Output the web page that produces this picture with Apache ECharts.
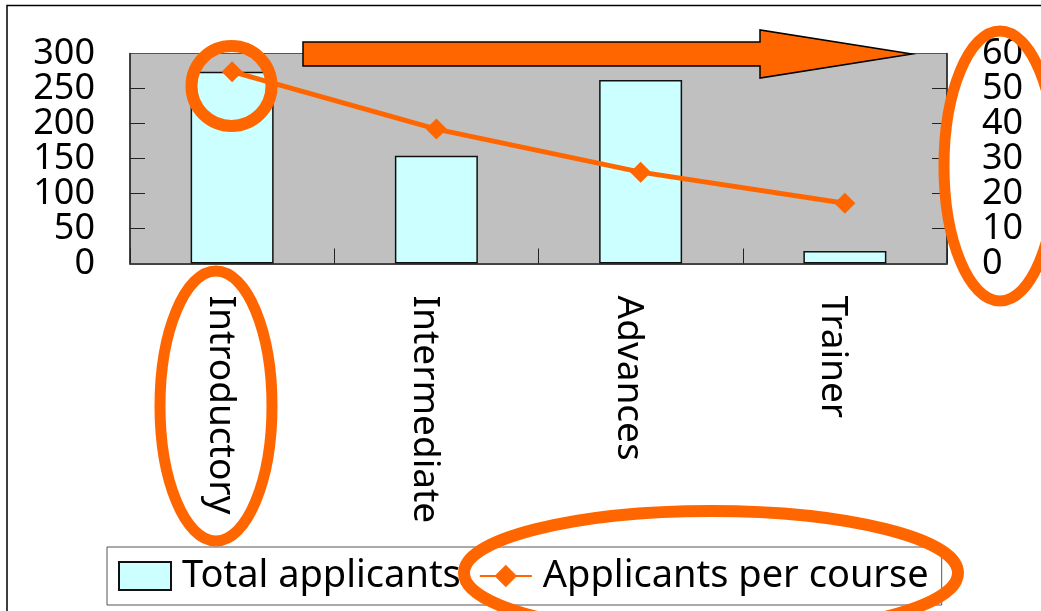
<!DOCTYPE html>
<html>
<head>
<meta charset="utf-8">
<script src="https://cdn.jsdelivr.net/npm/echarts@6/dist/echarts.min.js"></script>
<style>
html,body{margin:0;padding:0;background:#fff;}
#chart{width:1041px;height:611px;}
</style>
</head>
<body>
<div id="chart"></div>
<script>
const categories = ['Introductory', 'Intermediate', 'Advances', 'Trainer'];
const totalApplicants = [274, 154, 262, 18];
const applicantsPerCourse = [54.8, 38.4, 26.1, 17.2];
const leftTicks = [0, 300, 50];
const rightTicks = [0, 60, 10];

const FONT = 'Noto Sans';
const ORANGE = '#FF6600';

function mainAxis(pos, t) {
  return {
    type: 'value', position: pos,
    min: t[0], max: t[1], interval: t[2],
    axisLine: {show: true, lineStyle: {color: '#222', width: 1.5}},
    axisTick: {show: true, inside: true, length: 15, lineStyle: {color: '#222', width: 1}},
    axisLabel: {margin: 35, fontFamily: FONT, fontSize: 36, color: '#000', showMinLabel: false, showMaxLabel: false},
    splitLine: {show: false}
  };
}
function endAxis(pos, t) {
  return {
    type: 'value', position: pos,
    min: t[0], max: t[1], interval: t[1] - t[0],
    axisLine: {show: false}, axisTick: {show: false},
    axisLabel: {margin: 35, fontFamily: FONT, fontSize: 36, color: '#000', showMinLabel: true, showMaxLabel: true},
    splitLine: {show: false}
  };
}

const chart = echarts.init(document.getElementById('chart'), null, {renderer: 'canvas'});
chart.setOption({
  animation: false,
  backgroundColor: '#ffffff',
  textStyle: {fontFamily: FONT, color: '#000'},
  grid: {
    left: 130, right: 94, top: 53.5, bottom: 347.5,
    show: true, backgroundColor: '#C0C0C0', borderColor: '#555', borderWidth: 1
  },
  legend: {
    left: 107, top: 547,
    orient: 'horizontal',
    padding: [8, 13, 8, 11],
    itemGap: 18,
    itemWidth: 52, itemHeight: 28,
    backgroundColor: '#fff',
    borderColor: '#555', borderWidth: 1,
    textStyle: {fontFamily: FONT, fontSize: 38, color: '#000', lineHeight: 42, padding: [0, 0, 0, 6]},
    data: [
      {name: 'Total applicants', icon: 'rect'},
      {name: 'Applicants per course'}
    ]
  },
  xAxis: {
    type: 'category',
    data: categories,
    boundaryGap: true,
    axisLine: {show: true, lineStyle: {color: '#444', width: 2}},
    axisTick: {show: true, inside: true, length: 15, alignWithLabel: false, lineStyle: {color: '#222', width: 1}},
    axisLabel: {rotate: -90, margin: 32, fontFamily: FONT, fontSize: 37, color: '#000', verticalAlign: 'top', lineHeight: 24},
    splitLine: {show: false}
  },
  yAxis: [
    mainAxis('left', leftTicks),
    mainAxis('right', rightTicks),
    endAxis('left', leftTicks),
    endAxis('right', rightTicks)
  ],
  series: [
    {
      name: 'Total applicants',
      type: 'bar',
      yAxisIndex: 0,
      data: totalApplicants,
      barWidth: 83,
      itemStyle: {color: '#CCFFFF', borderColor: '#111', borderWidth: 1.5}
    },
    {
      name: 'Applicants per course',
      type: 'line',
      yAxisIndex: 1,
      data: applicantsPerCourse,
      symbol: 'diamond',
      symbolSize: 21,
      lineStyle: {color: ORANGE, width: 5},
      itemStyle: {color: ORANGE},
      z: 5
    }
  ],
  graphic: [
    {type: 'rect', z: 200, silent: true, shape: {x: 7, y: 5.5, width: 1200, height: 800},
     style: {fill: 'none', stroke: '#000', lineWidth: 1.5}},
    {type: 'polygon', z: 200, silent: true,
     shape: {points: [[303, 42], [760, 42], [760, 30], [912, 54], [760, 78], [760, 66], [303, 66]]},
     style: {fill: ORANGE, stroke: '#000', lineWidth: 1.5}},
    {type: 'circle', z: 200, silent: true, shape: {cx: 231.5, cy: 86, r: 40},
     style: {fill: 'none', stroke: ORANGE, lineWidth: 12}},
    {type: 'ellipse', z: 200, silent: true, shape: {cx: 216, cy: 406, rx: 56, ry: 135},
     style: {fill: 'none', stroke: ORANGE, lineWidth: 11}},
    {type: 'ellipse', z: 200, silent: true, shape: {cx: 1000, cy: 166, rx: 56, ry: 135},
     style: {fill: 'none', stroke: ORANGE, lineWidth: 11}},
    {type: 'ellipse', z: 200, silent: true, shape: {cx: 711, cy: 573, rx: 247, ry: 62},
     style: {fill: 'none', stroke: ORANGE, lineWidth: 12}}
  ]
});
</script>
</body>
</html>
